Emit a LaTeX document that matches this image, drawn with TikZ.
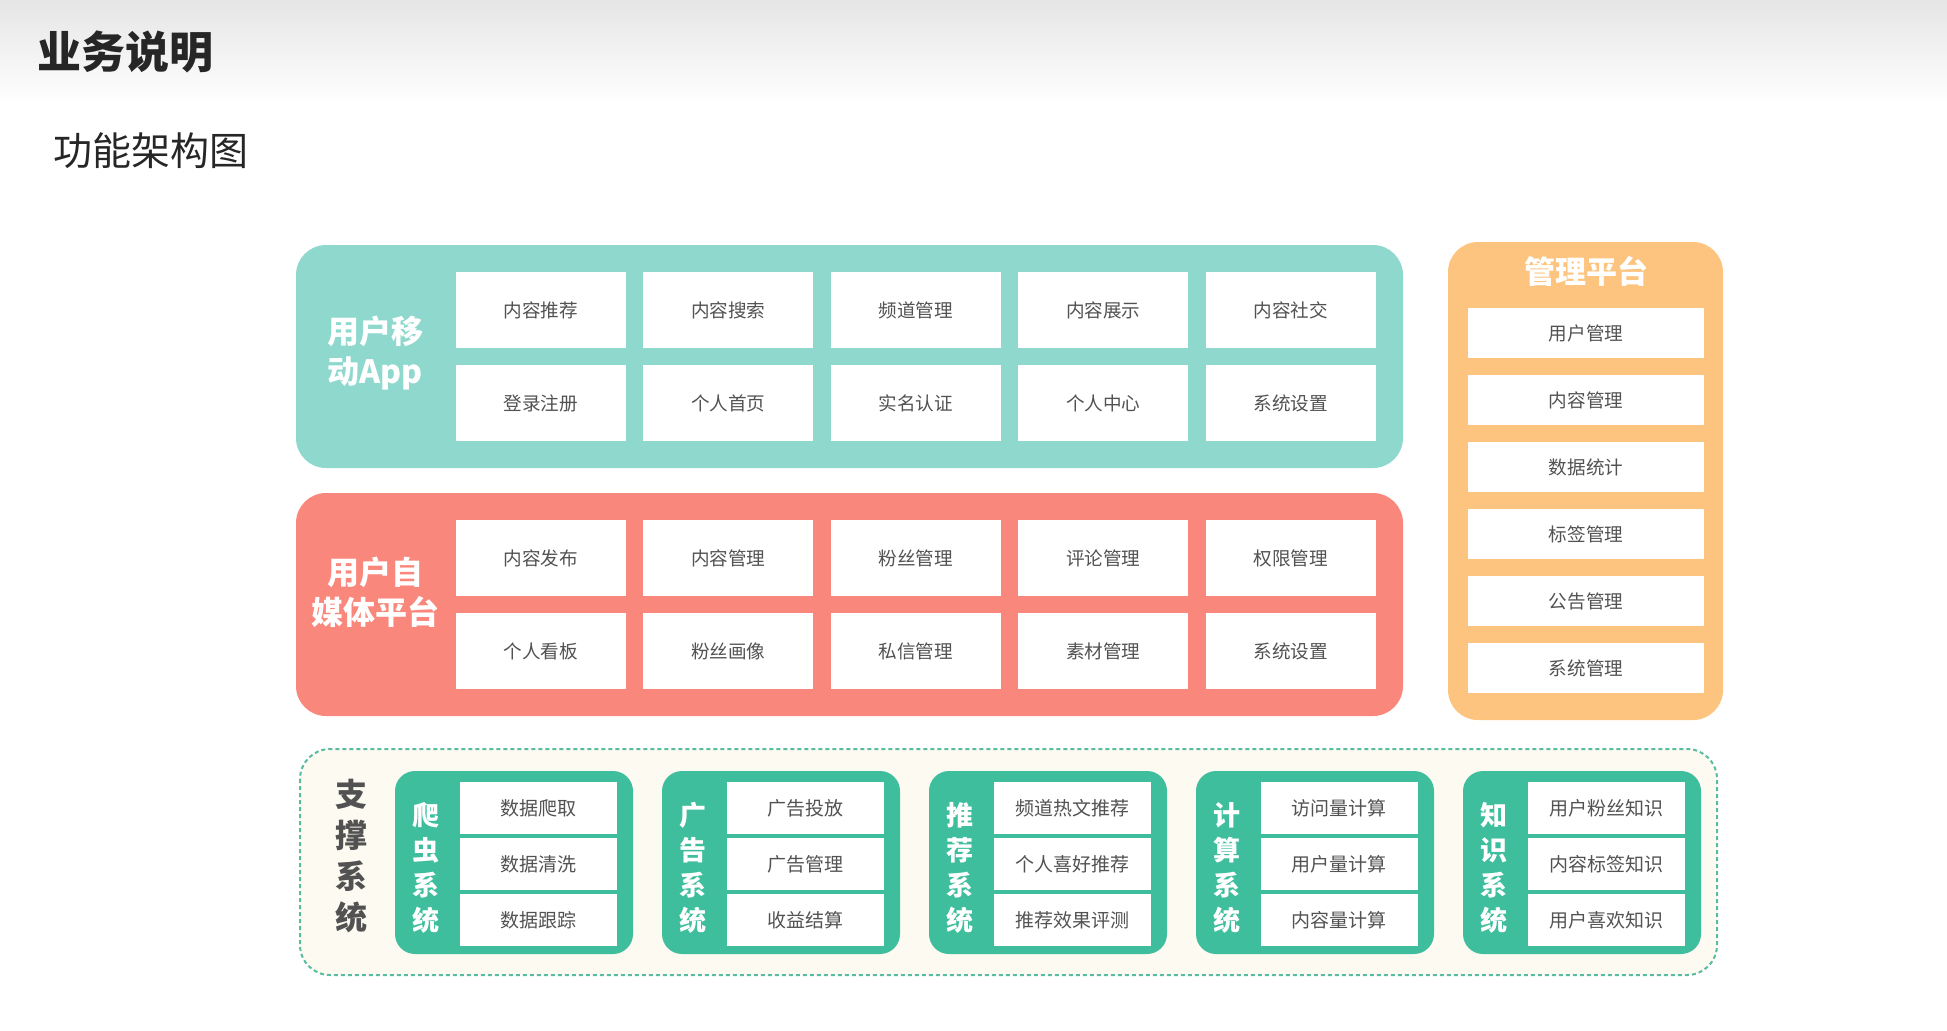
\documentclass[tikz,border=0pt]{standalone}
\usepackage{fontspec}
\setmainfont{Noto Sans CJK SC}
\usepackage{xcolor}
\usetikzlibrary{positioning}
\definecolor{appteal}{RGB}{142,216,206}
\definecolor{mediared}{RGB}{249,135,123}
\definecolor{adminorange}{RGB}{253,196,128}
\definecolor{supgreen}{RGB}{62,190,157}
\definecolor{supdash}{RGB}{88,188,162}
\definecolor{supcream}{RGB}{253,250,241}
\definecolor{celltext}{gray}{0.32}

\tikzset{
  cell/.style={fill=white,inner sep=0pt,minimum width=85pt,minimum height=38pt,
    text=celltext,font=\fontsize{9.3}{11}\selectfont},
  admincell/.style={cell,minimum width=118pt,minimum height=25pt},
  subcell/.style={cell,minimum width=78.5pt,minimum height=26pt,font=\fontsize{9.5}{11}\selectfont},
  panellabel/.style={text=white,align=center,font=\fontsize{16}{20}\selectfont\bfseries},
  syslabel/.style={text=white,align=center,font=\fontsize{13.5}{17.5}\selectfont\bfseries},
}

\begin{document}
\begin{tikzpicture}[x=0.5pt,y=-0.5pt]
\useasboundingbox (0,0) rectangle (1947,1030);
% page header
\shade[top color=black!10,bottom color=white] (0,0) rectangle (1947,105);
\node[font=\fontsize{22}{26}\selectfont\bfseries,text=black!85] (title) at (125,52) {业务说明};
\node[font=\fontsize{19.5}{23}\selectfont,text=black!85] (subtitle) at (151,151) {功能架构图};

% user mobile app
\fill[appteal,rounded corners=15pt] (296,245) rectangle (1403,468);
\node[panellabel] (applabel) at (375,353) {用户移\\动App};
\foreach \t [count=\i from 0] in {内容推荐,内容搜索,频道管理,内容展示,内容社交}
  \node[cell] (appa\i) at (540.7+187.5*\i,310) {\t};
\foreach \t [count=\i from 0] in {登录注册,个人首页,实名认证,个人中心,系统设置}
  \node[cell] (appb\i) at (540.7+187.5*\i,403) {\t};

% self media platform
\fill[mediared,rounded corners=15pt] (296,493) rectangle (1403,716);
\node[panellabel] (medialabel) at (375,592) {用户自\\媒体平台};
\foreach \t [count=\i from 0] in {内容发布,内容管理,粉丝管理,评论管理,权限管理}
  \node[cell] (mediaa\i) at (540.7+187.5*\i,558) {\t};
\foreach \t [count=\i from 0] in {个人看板,粉丝画像,私信管理,素材管理,系统设置}
  \node[cell] (mediab\i) at (540.7+187.5*\i,651) {\t};

% admin platform
\fill[adminorange,rounded corners=15pt] (1448,242) rectangle (1723,720);
\node[font=\fontsize{15.5}{19}\selectfont\bfseries,text=white] (adminlabel) at (1586,271) {管理平台};
\foreach \t [count=\i from 0] in {用户管理,内容管理,数据统计,标签管理,公告管理,系统管理}
  \node[admincell] (admin\i) at (1586,333+67*\i) {\t};

% support systems
\draw[supdash,fill=supcream,dash pattern=on 2pt off 1.5pt,line width=1pt,rounded corners=15pt] (300,749) rectangle (1717,975);
\node[align=center,text=black!68,font=\fontsize{16}{20.5}\selectfont\bfseries] (suplabel) at (351,856) {支\\撑\\系\\统};
\foreach \nm/\p/\q/\ra/\rb/\rc [count=\k from 0] in {
  crawl/爬/虫/数据爬取/数据清洗/数据跟踪,
  ad/广/告/广告投放/广告管理/收益结算,
  rec/推/荐/频道热文推荐/个人喜好推荐/推荐效果评测,
  calc/计/算/访问量计算/用户量计算/内容量计算,
  know/知/识/用户粉丝知识/内容标签知识/用户喜欢知识}
{
  \begin{scope}[xshift=\k*133.5pt]
  \fill[supgreen,rounded corners=10pt] (395,771) rectangle (633,954);
  \node[syslabel] (\nm-lab) at (426,868) {\p\\\q\\系\\统};
  \node[subcell] (\nm-1) at (538.3,808) {\ra};
  \node[subcell] (\nm-2) at (538.3,864) {\rb};
  \node[subcell] (\nm-3) at (538.3,920) {\rc};
  \end{scope}
}
\end{tikzpicture}
\end{document}
